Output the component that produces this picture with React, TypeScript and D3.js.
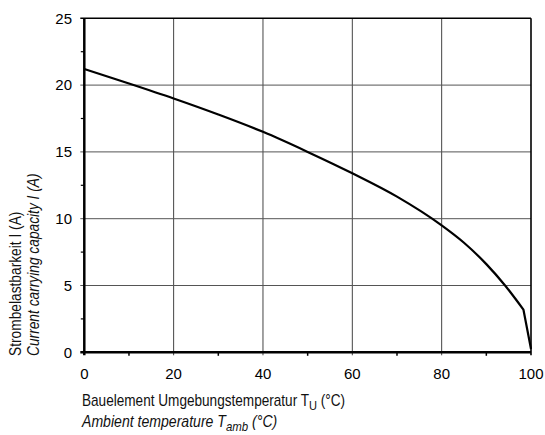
import React from "react";
import * as d3 from "d3";

const tempValues = [0, 10, 20, 30, 40, 50, 60, 70, 80, 85, 90, 94.2, 98.3, 100];
const currentValues = [21.2, 20.12, 19.0, 17.8, 16.5, 15.0, 13.4, 11.65, 9.5, 8.2, 6.6, 5.0, 3.2, 0.25];
const xTicks = [0, 20, 40, 60, 80, 100];
const xMinorTicks = [10, 30, 50, 70, 90];
const yTicks = [0, 5, 10, 15, 20, 25];
const yMinorTicks = [2.5, 7.5, 12.5, 17.5, 22.5];

const W = 545;
const H = 435;
const L = 84.3, R = 531, T = 18.3, B = 352.3;

export default function App() {
  const x = d3.scaleLinear().domain([0, 100]).range([L, R]);
  const y = d3.scaleLinear().domain([0, 25]).range([B, T]);
  const pts = tempValues.map((t, i) => [t, currentValues[i]] as [number, number]);
  const smoothPts = pts.slice(0, pts.length - 1);
  const tailPts = pts.slice(pts.length - 2);
  const smooth = d3
    .line<[number, number]>()
    .x((d) => x(d[0]))
    .y((d) => y(d[1]))
    .curve(d3.curveMonotoneX);
  const straight = d3
    .line<[number, number]>()
    .x((d) => x(d[0]))
    .y((d) => y(d[1]));
  const tail = (straight(tailPts) || "").replace(/^M[^L]*/, "");
  const pathD = (smooth(smoothPts) || "") + tail;
  const sans = "'Liberation Sans', Arial, sans-serif";
  return (
    <svg width={W} height={H} style={{ position: "absolute", left: 0, top: 0, background: "#fff" }}>
      <rect x={0} y={0} width={W} height={H} fill="#fff" />
      {/* grid */}
      {xTicks.filter((t) => t > 0 && t < 100).map((t) => (
        <line key={"gx" + t} x1={x(t)} x2={x(t)} y1={T} y2={B + 3} stroke="#444" strokeWidth={1} />
      ))}
      {yTicks.filter((t) => t > 0 && t < 25).map((t) => (
        <line key={"gy" + t} x1={L - 4} x2={R} y1={y(t)} y2={y(t)} stroke="#555" strokeWidth={1} />
      ))}
      {/* minor ticks */}
      {xMinorTicks.map((t) => (
        <line key={"mx" + t} x1={x(t)} x2={x(t)} y1={B} y2={B + 3.5} stroke="#000" strokeWidth={1.5} />
      ))}
      {yMinorTicks.map((t) => (
        <line key={"my" + t} x1={L - 3.5} x2={L} y1={y(t)} y2={y(t)} stroke="#000" strokeWidth={1.2} />
      ))}
      {/* border */}
      <line x1={L - 4} x2={R} y1={T} y2={T} stroke="#000" strokeWidth={1.6} />
      <line x1={R} x2={R} y1={T} y2={B + 3} stroke="#000" strokeWidth={1.6} />
      <line x1={L - 4} x2={R} y1={B} y2={B} stroke="#000" strokeWidth={2.5} />
      <line x1={L} x2={L} y1={T} y2={B + 3} stroke="#000" strokeWidth={2.5} />
      {/* curve */}
      <path d={pathD} fill="none" stroke="#000" strokeWidth={2.2} strokeLinejoin="round" />
      {/* tick labels */}
      {yTicks.map((t) => (
        <text key={"ly" + t} x={72} y={y(t) + 5.3} textAnchor="end" fontFamily={sans} fontSize={15} fill="#000">
          {t}
        </text>
      ))}
      {xTicks.map((t) => (
        <text key={"lx" + t} x={x(t)} y={379} textAnchor="middle" fontFamily={sans} fontSize={15} fill="#000">
          {t}
        </text>
      ))}
      {/* x title */}
      <g transform="translate(82,406) scale(0.85,1)">
        <text x={0} y={0} fontFamily={sans} fontSize={16} fill="#111">
          Bauelement Umgebungstemperatur T
          <tspan fontSize={13} dy={4}>U</tspan>
          <tspan dy={-4}> (°C)</tspan>
        </text>
      </g>
      <g transform="translate(82,427) scale(0.88,1)">
        <text x={0} y={0} fontFamily={sans} fontSize={16} fontStyle="italic" fill="#111">
          Ambient temperature T
          <tspan fontSize={13} dy={4}>amb</tspan>
          <tspan dy={-4}> (°C)</tspan>
        </text>
      </g>
      {/* y title */}
      <g transform="translate(21,356) rotate(-90) scale(0.86,1)">
        <text x={0} y={0} fontFamily={sans} fontSize={16} fill="#111">
          Strombelastbarkeit I (A)
        </text>
      </g>
      <g transform="translate(39,356) rotate(-90) scale(0.86,1)">
        <text x={0} y={0} fontFamily={sans} fontSize={16} fontStyle="italic" fill="#111">
          Current carrying capacity I (A)
        </text>
      </g>
    </svg>
  );
}
